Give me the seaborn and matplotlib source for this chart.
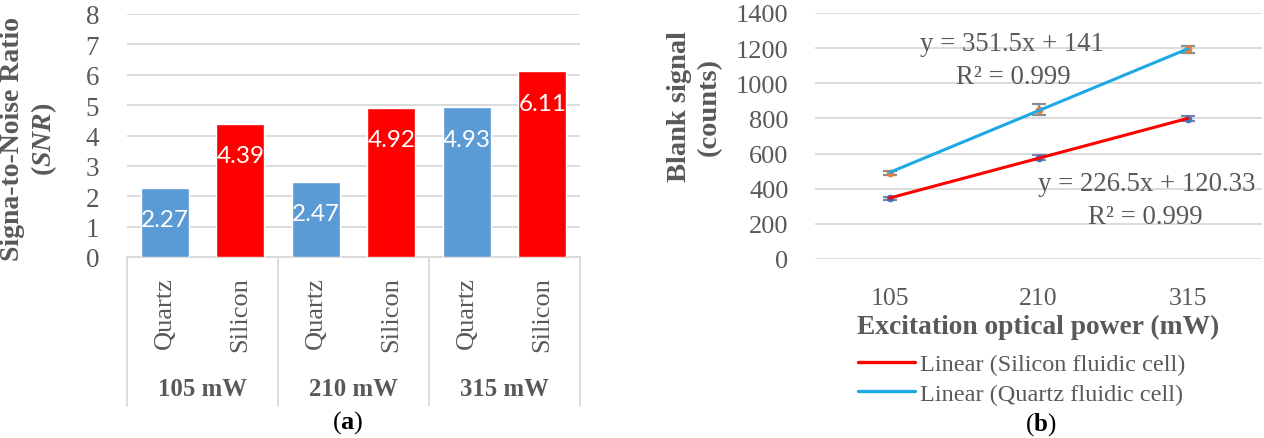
import numpy as np
import pandas as pd
import matplotlib
matplotlib.use("Agg")
import matplotlib.pyplot as plt
import matplotlib.transforms as mtransforms
from matplotlib.lines import Line2D
import seaborn as sns

# ---------------- data ----------------
groups = ["105 mW", "210 mW", "315 mW"]
materials = ["Quartz", "Silicon"]
snr_quartz = [2.27, 2.47, 4.93]
snr_silicon = [4.39, 4.92, 6.11]

powers = ["105", "210", "315"]
blank_quartz = [490, 849, 1193]
blank_quartz_err = [12, 32, 22]
blank_silicon = [345, 577, 798]
blank_silicon_err = [10, 14, 15]
eq_quartz = ["y = 351.5x + 141", "R² = 0.999"]
eq_silicon = ["y = 226.5x + 120.33", "R² = 0.999"]
legend_labels = ["Linear (Silicon fluidic cell)", "Linear (Quartz fluidic cell)"]

# ---------------- style ----------------
sns.set_theme(style="white")
SERIF = "Liberation Serif"
plt.rcParams["font.family"] = [SERIF, "DejaVu Serif"]
plt.rcParams["mathtext.fontset"] = "custom"
plt.rcParams["mathtext.it"] = "Liberation Serif:italic:bold"
plt.rcParams["mathtext.bf"] = "Liberation Serif:bold"
plt.rcParams["mathtext.rm"] = "Liberation Serif"

GRAY = "#595959"
GRID = "#D9D9D9"
BLUE = "#5B9BD5"
RED = "#FF0000"
CYAN = "#1FA8E6"

W, H = 1264, 439
fig = plt.figure(figsize=(W / 100, H / 100), dpi=100)

def box(x0, ytop, x1, ybot):
    return [x0 / W, 1 - ybot / H, (x1 - x0) / W, (ybot - ytop) / H]

# ================= panel (a) =================
ax1 = fig.add_axes(box(127, 15, 580, 258))
rows = []
for g, q, s in zip(groups, snr_quartz, snr_silicon):
    rows.append({"key": f"{g}|Quartz", "group": g, "material": "Quartz", "snr": q})
    rows.append({"key": f"{g}|Silicon", "group": g, "material": "Silicon", "snr": s})
df = pd.DataFrame(rows)
order = list(df["key"])
sns.barplot(data=df, x="key", y="snr", hue="material", order=order,
            palette={"Quartz": BLUE, "Silicon": RED}, dodge=False,
            width=0.64, saturation=1, legend=False, ax=ax1, zorder=3)
ax1.set_ylim(0, 8)
ax1.set_xlim(-0.5, len(order) - 0.5)
ax1.set_yticks(range(0, 9))
ax1.yaxis.grid(True, color=GRID, lw=1.3, zorder=0)
ax1.set_axisbelow(True)
for sp in ["top", "right", "left"]:
    ax1.spines[sp].set_visible(False)
ax1.spines["bottom"].set_color(GRID)
ax1.spines["bottom"].set_linewidth(1.3)
ax1.tick_params(axis="y", length=0, pad=20, labelsize=19.5, labelcolor=GRAY)
ax1.set_xticks([])
ax1.set_xlabel("")
ax1.set_ylabel("Signa-to-Noise Ratio\n($\\mathit{SNR}$)", fontsize=20,
               fontweight="bold", color=GRAY, linespacing=1.2)
ax1.yaxis.set_label_coords(-0.215, 0.49)
ax1.yaxis.label.set_va("center")

# value labels inside bars
for patch, val in zip(sorted(ax1.patches, key=lambda p: p.get_x()), df["snr"]):
    if patch.get_height() <= 0:
        continue
    ax1.annotate(f"{val:.2f}", (patch.get_x() + patch.get_width() / 2, patch.get_height()),
                 xytext=(0, -23), textcoords="offset points", ha="center", va="center",
                 color="white", fontsize=17.5, family="Lato", zorder=5)

# multi-level category axis
trans = mtransforms.blended_transform_factory(ax1.transData, ax1.transAxes)
for i, row in df.iterrows():
    ax1.text(i, -0.078, row["material"], rotation=90, ha="center", va="top",
             transform=trans, fontsize=19, color=GRAY)
for gi, g in enumerate(groups):
    ax1.text(2 * gi + 0.5, -0.543, g, ha="center", va="center", transform=trans,
             fontsize=17.8, fontweight="bold", color=GRAY)
for xb in [-0.5, 1.5, 3.5, 5.5]:
    ax1.plot([xb, xb], [0, -0.613], transform=trans, color=GRID, lw=1.3, clip_on=False)

fig.text(348 / W, 1 - 423 / H, "($\\mathbf{a}$)", ha="center", va="center",
         fontsize=19, color="black")

# ================= panel (b) =================
ax2 = fig.add_axes(box(815, 14, 1262, 260))
xs = np.arange(1, len(powers) + 1)
sns.regplot(x=xs, y=np.array(blank_silicon), ci=None, scatter=False, truncate=True,
            line_kws=dict(color=RED, lw=2.2, zorder=4), ax=ax2)
sns.regplot(x=xs, y=np.array(blank_quartz), ci=None, scatter=False, truncate=True,
            line_kws=dict(color=CYAN, lw=2.2, zorder=4), ax=ax2)
ax2.errorbar(xs, blank_quartz, yerr=blank_quartz_err, fmt="o", ms=4.5,
             color="#ED7D31", ecolor="#8C8C8C", elinewidth=1.6, capsize=5,
             capthick=1.6, zorder=3)
ax2.errorbar(xs, blank_silicon, yerr=blank_silicon_err, fmt="o", ms=4.5,
             color="#4472C4", ecolor="#7A86A8", elinewidth=1.6, capsize=5,
             capthick=1.6, zorder=3)
ax2.set_xlim(0.5, len(powers) + 0.5)
ax2.set_ylim(0, 1400)
ax2.set_yticks(range(0, 1401, 200))
ax2.set_xticks(xs)
ax2.set_xticklabels(powers)
ax2.yaxis.grid(True, color=GRID, lw=1.3, zorder=0)
ax2.set_axisbelow(True)
for sp in ["top", "right", "left", "bottom"]:
    ax2.spines[sp].set_visible(False)
ax2.tick_params(axis="y", length=0, pad=19, labelsize=19, labelcolor=GRAY)
ax2.tick_params(axis="x", length=0, pad=20, labelsize=18.5, labelcolor=GRAY)
ax2.set_ylabel("Blank signal\n(counts)", fontsize=20.5, fontweight="bold", color=GRAY,
               linespacing=1.25)
ax2.yaxis.set_label_coords(-0.27, 0.622)
ax2.yaxis.label.set_va("center")
ax2.set_xlabel("Excitation optical power (mW)", fontsize=19.8, fontweight="bold",
               color=GRAY)
ax2.xaxis.set_label_coords(0.5, -0.276)
ax2.xaxis.label.set_va("center")

ax2.text(0.440, 0.875, eq_quartz[0], transform=ax2.transAxes, ha="center", va="center",
         fontsize=19.3, color=GRAY)
ax2.text(0.443, 0.740, eq_quartz[1], transform=ax2.transAxes, ha="center", va="center",
         fontsize=19.3, color=GRAY)
ax2.text(0.743, 0.305, eq_silicon[0], transform=ax2.transAxes, ha="center", va="center",
         fontsize=19.3, color=GRAY)
ax2.text(0.738, 0.171, eq_silicon[1], transform=ax2.transAxes, ha="center", va="center",
         fontsize=19.3, color=GRAY)

handles = [Line2D([], [], color=RED, lw=2.4), Line2D([], [], color=CYAN, lw=2.4)]
leg = fig.legend(handles, legend_labels, loc="center left",
                 bbox_to_anchor=(846 / W, 1 - 380 / H), frameon=False, fontsize=17.5,
                 handlelength=2.35, handletextpad=0.2, labelspacing=0.3, borderpad=0)
for t in leg.get_texts():
    t.set_color(GRAY)

fig.text(1041 / W, 1 - 425 / H, "($\\mathbf{b}$)", ha="center", va="center",
         fontsize=18, color="black")

fig.savefig("out.png", dpi=100)
